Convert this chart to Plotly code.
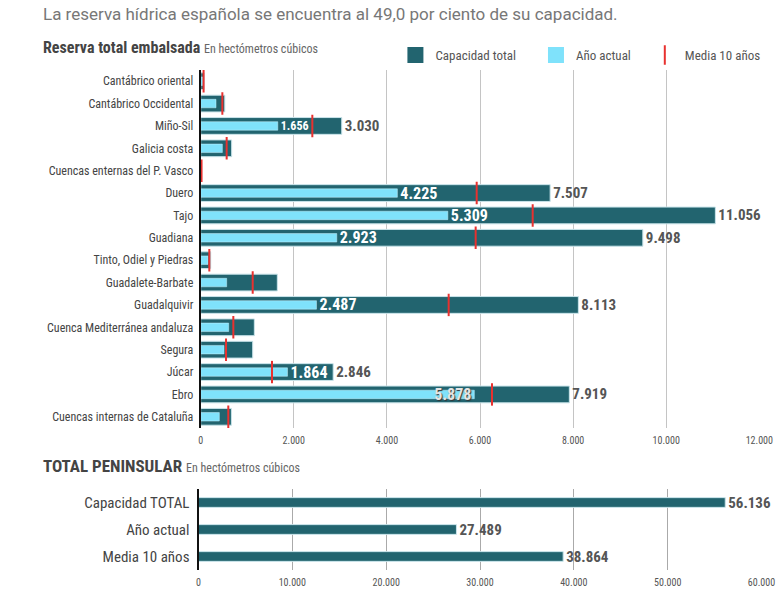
import plotly.graph_objects as go

# ---- data ----
cuencas = ["Cantábrico oriental", "Cantábrico Occidental", "Miño-Sil", "Galicia costa",
           "Cuencas enternas del P. Vasco", "Duero", "Tajo", "Guadiana",
           "Tinto, Odiel y Piedras", "Guadalete-Barbate", "Guadalquivir",
           "Cuenca Mediterránea andaluza", "Segura", "Júcar", "Ebro",
           "Cuencas internas de Cataluña"]
capacidad = [73, 518, 3030, 665, 21, 7507, 11056, 9498, 215, 1646, 8113, 1152, 1117, 2846, 7919, 660]
actual = [45, 329, 1656, 465, 15, 4225, 5309, 2923, 157, 558, 2487, 601, 500, 1864, 5878, 400]
media10 = [62, 465, 2398, 558, 18, 5929, 7132, 5907, 185, 1117, 5327, 701, 544, 1532, 6258, 593]
capacidad_txt = ["", "", "3.030", "", "", "7.507", "11.056", "9.498", "", "", "8.113", "", "", "2.846", "7.919", ""]
actual_txt = ["", "", "1.656", "", "", "4.225", "5.309", "2.923", "", "", "2.487", "", "", "1.864", "5.878", ""]

total_cat = ["Capacidad TOTAL", "Año actual", "Media 10 años"]
total_val = [56136, 27489, 38864]
total_txt = ["56.136", "27.489", "38.864"]

top_ticks = [0, 2000, 4000, 6000, 8000, 10000, 12000]
top_ticktext = ["0", "2.000", "4.000", "6.000", "8.000", "10.000", "12.000"]
bot_ticks = [0, 10000, 20000, 30000, 40000, 50000, 60000]
bot_ticktext = ["0", "10.000", "20.000", "30.000", "40.000", "50.000", "60.000"]

DARK = "#22646f"
CYAN = "#7fe2fb"
RED = "#e8312f"
FONT = "Liberation Sans Narrow, Roboto Condensed, Arial Narrow, Roboto, sans-serif"
NB = "\u00a0"

W, H = 783, 598

fig = go.Figure()

fig.add_trace(go.Bar(
    y=cuencas, x=capacidad, orientation="h", name="Capacidad total", showlegend=False,
    marker=dict(color=DARK, line=dict(color="#c9e4ea", width=1)), width=0.75,
    text=capacidad_txt, textposition="outside", cliponaxis=False, constraintext="none",
    textfont=dict(family=FONT, size=15, color="#555555", weight="bold"),
    xaxis="x", yaxis="y", hoverinfo="x+y"))

act_pos = ["inside" if c == "Ebro" else "outside" for c in cuencas]
act_size = [12 if c == "Miño-Sil" else 16 for c in cuencas]
fig.add_trace(go.Bar(
    y=cuencas, x=actual, orientation="h", name="Año actual", showlegend=False,
    marker=dict(color=CYAN, line=dict(color="#c9f2fc", width=0.5)), width=0.38,
    text=actual_txt, textposition=act_pos, insidetextanchor="end", constraintext="none",
    textfont=dict(family=FONT, size=act_size, color="white", weight="bold"),
    outsidetextfont=dict(family=FONT, size=act_size, color="white", weight="bold"),
    insidetextfont=dict(family=FONT, size=16, color="#e4e4e4", weight="bold",
                        shadow="1px 1px 1px #333"),
    cliponaxis=False, xaxis="x", yaxis="y", hoverinfo="x+y"))

fig.add_trace(go.Scatter(
    y=cuencas, x=media10, mode="markers", name="Media 10 años", showlegend=False,
    marker=dict(symbol="line-ns", size=16, color=RED, line=dict(color=RED, width=2)),
    xaxis="x", yaxis="y", hoverinfo="x+y"))

# legend entries
fig.add_trace(go.Scatter(x=[None], y=[None], mode="markers", name="Capacidad total" + NB * 5,
                         marker=dict(symbol="square", size=16, color=DARK), legendrank=1,
                         xaxis="x", yaxis="y"))
fig.add_trace(go.Scatter(x=[None], y=[None], mode="markers", name="Año actual" + NB * 3,
                         marker=dict(symbol="square", size=16, color=CYAN), legendrank=2,
                         xaxis="x", yaxis="y"))
fig.add_trace(go.Scatter(x=[None], y=[None], mode="markers", name="Media 10 años",
                         marker=dict(symbol="line-ns", size=14, color=RED, line=dict(color=RED, width=2)),
                         legendrank=3, xaxis="x", yaxis="y"))

fig.add_trace(go.Bar(
    y=total_cat, x=total_val, orientation="h", showlegend=False,
    marker=dict(color=DARK, line=dict(color="#c9e4ea", width=1)), width=0.36,
    text=total_txt, textposition="outside", cliponaxis=False, constraintext="none",
    textfont=dict(family=FONT, size=15, color="#555555", weight="bold"),
    xaxis="x2", yaxis="y2", hoverinfo="x+y"))

n = len(cuencas)
fig.update_layout(
    width=W, height=H, margin=dict(l=0, r=0, t=0, b=0, autoexpand=False),
    paper_bgcolor="white", plot_bgcolor="white",
    barmode="overlay",
    font=dict(family=FONT, color="#444444", size=12),
    showlegend=True,
    legend=dict(orientation="h", x=0.505, y=1 - 55 / H, xanchor="left", yanchor="middle",
                font=dict(size=13, color="#555555"),
                traceorder="normal", bgcolor="rgba(0,0,0,0)"),
    xaxis=dict(domain=[200.7 / W, 759.3 / W], range=[0, 12000], tickvals=top_ticks,
               ticktext=top_ticktext, showgrid=True, gridcolor="#c4c4c4", gridwidth=1,
               zeroline=False, showline=False, tickfont=dict(size=10, color="#555555"),
               ticks="outside", ticklen=3, tickcolor="rgba(0,0,0,0)",
               anchor="y", fixedrange=True, automargin=False),
    yaxis=dict(domain=[1 - 428 / H, 1 - 70 / H], categoryorder="array", categoryarray=cuencas,
               range=[n - 0.5, -0.5], showline=True, linecolor="#111111", linewidth=2,
               showgrid=False, ticks="outside", ticklen=3, tickcolor="rgba(0,0,0,0)",
               tickfont=dict(size=12, color="#444444"), anchor="x", fixedrange=True,
               automargin=False),
    xaxis2=dict(domain=[198.5 / W, 761.5 / W], range=[0, 60000], tickvals=bot_ticks,
                ticktext=bot_ticktext, showgrid=True, gridcolor="#aaaaaa", gridwidth=1,
                zeroline=False, showline=False, tickfont=dict(size=10, color="#555555"),
                ticks="outside", ticklen=3, tickcolor="rgba(0,0,0,0)",
                anchor="y2", fixedrange=True, automargin=False),
    yaxis2=dict(domain=[1 - 570 / H, 1 - 489 / H], categoryorder="array", categoryarray=total_cat,
                range=[len(total_cat) - 0.5, -0.5], showline=True, linecolor="#111111", linewidth=2,
                showgrid=False, ticks="outside", ticklen=4, tickcolor="rgba(0,0,0,0)",
                tickfont=dict(size=15, color="#444444"), anchor="x2", fixedrange=True,
                automargin=False),
    annotations=[
        dict(text="La reserva hídrica española se encuentra al 49,0 por ciento de su capacidad.",
             x=41 / W, y=1 - 14 / H, xref="paper", yref="paper", xanchor="left", yanchor="middle",
             showarrow=False, font=dict(family="Roboto, Liberation Sans, sans-serif", size=17, color="#777777")),
        dict(text="<b>Reserva total embalsada</b> <span style='font-size:12px;color:#666'>En hectómetros cúbicos</span>",
             x=41 / W, y=1 - 47 / H, xref="paper", yref="paper", xanchor="left", yanchor="middle",
             showarrow=False, font=dict(size=16, color="#444444")),
        dict(text="<b>TOTAL PENINSULAR</b> <span style='font-size:12px;color:#666'>En hectómetros cúbicos</span>",
             x=41 / W, y=1 - 466 / H, xref="paper", yref="paper", xanchor="left", yanchor="middle",
             showarrow=False, font=dict(size=17, color="#444444")),
    ],
)

fig.write_html("out.html", config={"displayModeBar": False},
               post_script="document.body.style.margin='0px';")
